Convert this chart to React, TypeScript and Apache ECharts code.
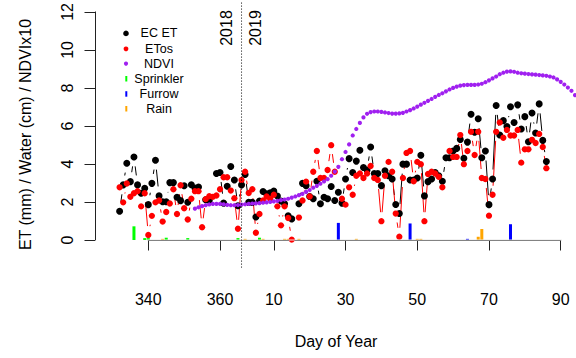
import React, { useEffect, useRef } from "react";
import * as echarts from "echarts";

// 2019 day-of-year d is plotted at 365 + d (continuous day scale)
const YEAR_LEN = 365;
const YEAR_BREAK = 366;
const X_TICKS = [340, 360, 375, 395, 415, 435, 455];
const Y_TICKS = [0, 2, 4, 6, 8, 10, 12];
const YEAR_LABELS = ["2018", "2019"];
const LEGEND_NAMES = ["EC ET", "ETos", "NDVI", "Sprinkler", "Furrow", "Rain"];

const EC_ET: [number, number][] = [
  [332, 1.51], [333, 2.9], [334, 4.04], [335, 3.07], [336, 4.37], [337, 2.9], [338, 2.46], [339, 2.72],
  [340, 1.86], [341, 2.98], [342, 4.2], [343, 2.32], [344, 2.01], [345, 2.01], [346, 3.02], [347, 3.02],
  [348, 2.25], [349, 2.07], [350, 2.85], [351, 1.99], [352, 2.91], [353, 2.73], [354, 2.79], [356, 2.12],
  [357, 2.08], [359, 3.5], [360, 3.55], [361, 1.94], [362, 2.83], [363, 3.87], [364, 3.16], [365, 1.8],
  [366, 2.9], [367, 3.45], [368, 1.98], [369, 1.98], [370, 1.21], [371, 2.05], [372, 2.55], [373, 2.43],
  [374, 2.48], [375, 2.57], [376, 2.31], [377, 2.05], [378, 1.91], [379, 1.28], [380, 1.11], [382, 1.91],
  [383, 2.98], [384, 2.86], [385, 2.29], [386, 2.17], [387, 3.09], [388, 1.91], [389, 2.25], [390, 2.17],
  [391, 2.81], [392, 2.08], [393, 2.51], [394, 1.94], [395, 3.21], [396, 4.28], [397, 3.55], [398, 4.15],
  [399, 4.72], [400, 3.81], [401, 3.68], [402, 4.89], [403, 3.5], [404, 3.5], [405, 2.86], [406, 3.64],
  [407, 3.38], [408, 3.21], [409, 1.87], [410, 1.39], [411, 3.99], [412, 3.99], [413, 3.16], [414, 3.16],
  [415, 3.26], [416, 4.46], [417, 2.32], [418, 3.07], [419, 3.21], [420, 3.55], [421, 3.38], [422, 3.09],
  [423, 4.33], [424, 4.33], [425, 4.68], [426, 4.82], [427, 5.29], [428, 4.3], [429, 5.15], [430, 6.62],
  [431, 5.67], [432, 6.38], [433, 4.33], [434, 4.68], [435, 1.86], [436, 3.21], [437, 7.08], [438, 5.52],
  [439, 6.28], [440, 5.97], [441, 7.01], [442, 6.18], [443, 7.11], [444, 5.84], [445, 6.49], [446, 5.17],
  [447, 6.68], [448, 5.63], [449, 7.16], [450, 5.24], [451, 4.13],
];

const ETOS: [number, number][] = [
  [332, 2.77], [333, 1.98], [334, 2.97], [335, 2.27], [336, 2.46], [337, 2.57], [338, 1.77], [339, 2.46],
  [340, 0.26], [341, 1.27], [342, 1.98], [343, 2.08], [344, 0.97], [345, 1.47], [346, 1.92], [347, 2.67],
  [348, 1.37], [349, 2.88], [350, 1.67], [351, 1.08], [352, 2.17], [353, 2.57], [354, 2.57], [355, 0.67],
  [356, 2.15], [357, 2.3], [358, 2.27], [359, 2.34], [360, 2.67], [361, 3.3], [362, 3.3], [363, 2.6],
  [364, 2.2], [365, 0.59], [366, 3.16], [367, 3.59], [368, 2.47], [369, 2.67], [370, 0.38], [371, 1.37],
  [372, 2.08], [373, 2.29], [374, 2.17], [375, 2.38], [376, 1.77], [377, 0.77], [378, 1.77], [379, 1.16],
  [380, 0.02], [382, 1.18], [383, 2.08], [384, 3.07], [385, 2.29], [386, 3.59], [387, 4.68], [388, 3.26],
  [389, 3.26], [390, 3.68], [391, 4.99], [392, 3.59], [394, 2.17], [395, 1.86], [396, 2.77], [397, 2.38],
  [398, 3.38], [399, 3.5], [400, 3.26], [401, 3.5], [402, 3.89], [403, 3.26], [404, 3.16], [405, 0.99],
  [406, 3.38], [407, 4.11], [408, 3.59], [409, 1.39], [410, 0.17], [411, 3.26], [412, 4.58], [413, 4.68],
  [414, 3.09], [415, 4.11], [416, 3.99], [417, 0.99], [418, 3.47], [419, 3.59], [420, 3.5], [421, 3.33],
  [422, 2.77], [424, 4.68], [425, 4.37], [426, 4.37], [427, 5.52], [428, 3.99], [429, 4.68], [430, 5.69],
  [431, 4.47], [432, 5.69], [433, 3.26], [434, 3.21], [435, 1.28], [436, 2.38], [437, 5.69], [438, 6.18],
  [439, 5.38], [440, 5.79], [441, 5.5], [442, 5.5], [443, 5.79], [444, 4.07], [445, 4.77], [446, 4.77],
  [447, 5.27], [448, 5.1], [449, 5.58], [450, 4.89], [451, 3.78],
];

const NDVI: [number, number][] = [
  [353, 1.65], [354, 1.72], [355, 1.78], [356, 1.83], [357, 1.87], [358, 1.9], [359, 1.9], [360, 1.9],
  [361, 1.88], [362, 1.85], [363, 1.83], [364, 1.83], [365, 1.84], [366, 1.86], [367, 1.88], [368, 1.9],
  [369, 1.92], [370, 1.93], [371, 1.94], [372, 1.96], [373, 1.98], [374, 2.0], [375, 2.03], [376, 2.06],
  [377, 2.1], [378, 2.13], [379, 2.17], [380, 2.23], [381, 2.29], [382, 2.36], [383, 2.43], [384, 2.53],
  [385, 2.63], [386, 2.75], [387, 2.85], [388, 2.96], [389, 3.08], [390, 3.2], [391, 3.38], [392, 3.6],
  [393, 3.85], [394, 4.25], [395, 4.63], [396, 5.03], [397, 5.5], [398, 5.84], [399, 6.16], [400, 6.45],
  [401, 6.64], [402, 6.73], [403, 6.76], [404, 6.76], [405, 6.74], [406, 6.71], [407, 6.68], [408, 6.65],
  [409, 6.65], [410, 6.66], [411, 6.69], [412, 6.76], [413, 6.83], [414, 6.92], [415, 7.02], [416, 7.12],
  [417, 7.22], [418, 7.32], [419, 7.42], [420, 7.53], [421, 7.63], [422, 7.72], [423, 7.82], [424, 7.92],
  [425, 8.0], [426, 8.07], [427, 8.12], [428, 8.15], [429, 8.16], [430, 8.16], [431, 8.16], [432, 8.18],
  [433, 8.22], [434, 8.3], [435, 8.4], [436, 8.5], [437, 8.6], [438, 8.72], [439, 8.8], [440, 8.86],
  [441, 8.87], [442, 8.85], [443, 8.8], [444, 8.77], [445, 8.75], [446, 8.73], [447, 8.71], [448, 8.7],
  [449, 8.68], [450, 8.66], [451, 8.64], [452, 8.6], [453, 8.55], [454, 8.45], [455, 8.32], [456, 8.18],
  [457, 8.02], [458, 7.85], [459, 7.62], [460, 7.4],
];

const SPRINKLER: [number, number][] = [
  [336, 0.72], [339, 0.1], [340, 0.1], [345, 0.12], [351, 0.1], [365, 0.1], [371, 0.12],
];
const FURROW: [number, number][] = [[393, 0.9], [413, 0.87], [429, 0.06], [441, 0.83]];
const RAIN: [number, number][] = [
  [344, 0.06], [367, 0.06], [372, 0.06], [378, 0.06], [379, 0.06], [380, 0.15], [382, 0.06],
  [398, 0.06], [415, 0.06], [416, 0.06], [432, 0.17], [433, 0.58],
];
const BASELINE_SPAN = [329, 455.3];

const FONT = "Liberation Sans, Arial, Helvetica, sans-serif";
const C_BLACK = "#000000";
const C_RED = "#FF0000";
const C_PURPLE = "#A020F0";
const C_GREEN = "#00FF00";
const C_BLUE = "#0000FF";
const C_ORANGE = "#FFA500";

// R type="b": line segments between consecutive points, leaving a gap around each point
function gappedSegments(data: [number, number][], color: string, gap: number) {
  return {
    type: "custom",
    data,
    clip: false,
    silent: true,
    encode: { x: 0, y: 1 },
    renderItem: (params: any, api: any) => {
      const i = params.dataIndex;
      if (i === 0) return null;
      const prev = data[i - 1];
      const cur = data[i];
      if (cur[0] - prev[0] > 1.5) return null;
      const p0 = api.coord(prev);
      const p1 = api.coord(cur);
      const dx = p1[0] - p0[0];
      const dy = p1[1] - p0[1];
      const L = Math.hypot(dx, dy);
      if (L <= 2 * gap + 0.5) return null;
      const ux = dx / L;
      const uy = dy / L;
      return {
        type: "line",
        shape: { x1: p0[0] + ux * gap, y1: p0[1] + uy * gap, x2: p1[0] - ux * gap, y2: p1[1] - uy * gap },
        style: { stroke: color, lineWidth: 1 },
      };
    },
  };
}

export default function App() {
  const ref = useRef<HTMLDivElement>(null);
  useEffect(() => {
    document.body.style.margin = "0";
    if (!ref.current) return;
    const chart = echarts.init(ref.current, undefined, { renderer: "svg" });
    const fmtX = (v: number) => String(v > YEAR_LEN ? v - YEAR_LEN : v);
    const legendRows = [33.4, 48.8, 63.6, 79, 94.2, 109];
    const legendColors = [C_BLACK, C_RED, C_PURPLE, C_GREEN, C_BLUE, C_ORANGE];
    const legendGraphics: any[] = [];
    LEGEND_NAMES.forEach((name, i) => {
      const y = legendRows[i];
      if (i < 3) {
        legendGraphics.push({
          type: "circle",
          shape: { cx: 126, cy: y, r: [2.8, 2.4, 2.1][i] },
          style: { fill: legendColors[i] },
        });
      } else {
        legendGraphics.push({
          type: "rect",
          shape: { x: 125.3, y: y - 3, width: 2, height: 5.5 },
          style: { fill: legendColors[i] },
        });
      }
      legendGraphics.push({
        type: "text",
        x: 159,
        y,
        style: { text: name, fontSize: 12.5, fontFamily: FONT, fill: "#000", textAlign: "center", textVerticalAlign: "middle" },
      });
    });

    const barBase = { type: "bar", barWidth: 3, barGap: "-100%", clip: false, silent: true };

    chart.setOption({
      animation: false,
      grid: { left: 148.3, right: 15.3, top: 9.3, bottom: 118 },
      xAxis: {
        type: "value",
        min: 340,
        max: 455,
        offset: 29.3,
        splitLine: { show: false },
        axisLine: { show: true, lineStyle: { color: "#222", width: 1 } },
        axisTick: { show: true, length: 10.5, customValues: X_TICKS, lineStyle: { color: "#222" } },
        axisLabel: { customValues: X_TICKS, formatter: fmtX, fontSize: 16, fontFamily: FONT, color: "#000", margin: 22 },
      },
      yAxis: {
        type: "value",
        min: 0,
        max: 12,
        interval: 2,
        offset: 53.3,
        splitLine: { show: false },
        axisLine: { show: true, lineStyle: { color: "#222", width: 1 } },
        axisTick: { show: true, length: 10.5, customValues: Y_TICKS, lineStyle: { color: "#222" } },
        axisLabel: { customValues: Y_TICKS, rotate: 90, fontSize: 16, fontFamily: FONT, color: "#000", margin: 20 },
      },
      series: [
        {
          type: "line",
          data: BASELINE_SPAN.map((x) => [x, 0]),
          symbol: "none",
          clip: false,
          silent: true,
          lineStyle: { color: "#e4e4e4", width: 1 },
        },
        { ...barBase, name: "Sprinkler", data: SPRINKLER, itemStyle: { color: C_GREEN } },
        { ...barBase, name: "Furrow", data: FURROW, itemStyle: { color: C_BLUE } },
        { ...barBase, name: "Rain", data: RAIN, itemStyle: { color: C_ORANGE } },
        gappedSegments(EC_ET, C_BLACK, 9.5),
        {
          type: "scatter",
          name: "EC ET",
          data: EC_ET,
          symbolSize: 7,
          clip: false,
          itemStyle: { color: C_BLACK, opacity: 1 },
        },
        gappedSegments(ETOS, C_RED, 9),
        {
          type: "scatter",
          name: "ETos",
          data: ETOS,
          symbolSize: 6.3,
          clip: false,
          itemStyle: { color: C_RED, opacity: 1 },
        },
        {
          type: "scatter",
          name: "NDVI",
          data: NDVI,
          symbolSize: 4.2,
          clip: false,
          itemStyle: { color: C_PURPLE, opacity: 1 },
        },
        {
          type: "line",
          data: [[YEAR_BREAK, 12.49], [YEAR_BREAK, -1.45]],
          symbol: "none",
          clip: false,
          silent: true,
          lineStyle: { color: "#000", width: 1, type: [1, 2] },
        },
      ],
      graphic: [
        ...legendGraphics,
        {
          type: "text",
          x: 226.7,
          y: 28,
          rotation: Math.PI / 2,
          style: { text: YEAR_LABELS[0], fontSize: 16, fontFamily: FONT, fill: "#000", textAlign: "center", textVerticalAlign: "middle" },
        },
        {
          type: "text",
          x: 255.5,
          y: 28,
          rotation: Math.PI / 2,
          style: { text: YEAR_LABELS[1], fontSize: 16, fontFamily: FONT, fill: "#000", textAlign: "center", textVerticalAlign: "middle" },
        },
        {
          type: "text",
          x: 25,
          y: 134.5,
          rotation: Math.PI / 2,
          style: { text: "ET (mm) / Water (cm) / NDVIx10", fontSize: 16, fontFamily: FONT, fill: "#000", textAlign: "center", textVerticalAlign: "middle" },
        },
        {
          type: "text",
          x: 336,
          y: 341,
          style: { text: "Day of Year", fontSize: 16, fontFamily: FONT, fill: "#000", textAlign: "center", textVerticalAlign: "middle" },
        },
      ],
    });
    return () => chart.dispose();
  }, []);
  return <div ref={ref} style={{ width: 576, height: 358 }} />;
}
